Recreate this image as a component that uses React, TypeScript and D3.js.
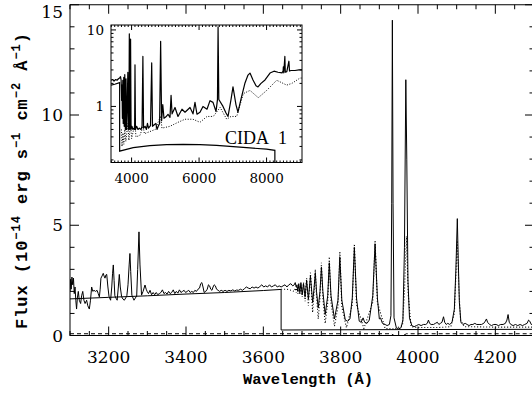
import React from "react";
import * as d3 from "d3";

type P = [number, number];

// ---------- main panel data (wavelength Å, flux 1e-14) ----------
const xTickValues = [3200, 3400, 3600, 3800, 4000, 4200];
const yTickValues = [0, 5, 10, 15];

const observed: P[] = [
  [3100, 2.0], [3101.5, 2.55], [3103, 2.1], [3105, 2.65], [3107, 2.3], [3109, 2.6], [3111, 1.9], [3113, 2.2],
  [3115, 1.6], [3117, 1.2], [3119, 1.7], [3121.5, 2.0], [3124, 1.6], [3127.5, 1.45], [3130, 1.8], [3133, 2.0],
  [3136, 1.6], [3139, 1.45], [3143, 1.6], [3146, 1.35], [3150, 1.2], [3153, 1.6], [3156, 2.2], [3159, 2.0],
  [3162, 2.05], [3166, 2.0], [3170, 2.05], [3173, 1.9], [3176, 1.75], [3178, 2.1], [3180, 2.6], [3183, 2.7],
  [3186, 2.82], [3188, 2.7], [3190.5, 2.6], [3193, 2.75], [3195, 2.77], [3198, 2.2], [3201, 1.76], [3205, 1.6],
  [3208, 2.2], [3210, 2.8], [3212, 3.2], [3214, 2.5], [3216, 1.8], [3219, 1.69], [3222, 1.6], [3225, 2.2],
  [3227.5, 2.77], [3230, 2.2], [3233.5, 1.76], [3237, 1.65], [3240.5, 1.6], [3244, 1.7], [3247, 1.8], [3250, 2.3],
  [3253, 3.2], [3255, 3.72], [3257, 2.9], [3260, 1.83], [3263, 1.7], [3265.5, 1.6], [3269, 1.7], [3272.5, 1.79],
  [3275, 3.0], [3278.4, 4.7], [3281, 3.2], [3285, 1.83], [3289, 2.0], [3294, 2.29], [3297, 2.1], [3300, 1.98],
  [3303, 1.9], [3307, 2.05], [3311, 1.85], [3315, 1.95], [3319, 1.85], [3323, 1.95], [3327, 1.85], [3331, 1.9],
  [3335, 1.95], [3339, 2.07], [3343, 1.9], [3347, 1.95], [3351, 1.88], [3355, 2.0], [3359, 1.9], [3363, 1.95],
  [3367, 2.07], [3371, 1.9], [3375, 2.0], [3379, 1.92], [3383, 2.07], [3387, 1.95], [3391, 2.0], [3395, 2.05],
  [3399, 1.95], [3403, 2.0], [3407, 2.05], [3411, 1.95], [3415, 2.0], [3419, 1.95], [3423, 2.05], [3427, 2.0],
  [3431, 2.1], [3435, 2.15], [3438, 2.35], [3441, 2.4], [3444, 2.2], [3447, 1.95], [3451, 2.0], [3455, 2.1],
  [3458, 2.3], [3461, 2.25], [3464, 2.1], [3467, 2.05], [3470, 2.2], [3473, 2.3], [3476, 2.25], [3479, 2.1],
  [3483, 2.05], [3487, 2.0], [3491, 2.05], [3496, 2.0], [3501, 2.05], [3506, 2.0], [3511, 2.05], [3516, 2.02],
  [3521, 2.07], [3526, 2.02], [3531, 2.06], [3536, 2.05], [3541, 2.1], [3546, 2.05], [3551, 2.12], [3556, 2.2],
  [3561, 2.15], [3566, 2.12], [3571, 2.2], [3576, 2.15], [3581, 2.2], [3586, 2.15], [3591, 2.22], [3596, 2.3],
  [3601, 2.2], [3606, 2.25], [3611, 2.2], [3616, 2.3], [3621, 2.2], [3626, 2.25], [3631, 2.3], [3636, 2.2],
  [3641, 2.25], [3646, 2.2], [3651, 2.25], [3656, 2.3], [3661, 2.2], [3666, 2.3], [3671, 2.35], [3676, 2.25],
  [3680, 2.3], [3682.5, 2.4], [3685, 2.2], [3687, 2.3], [3689, 2.0], [3691.6, 2.35], [3694.5, 1.95], [3697.2, 2.4],
  [3700.5, 1.85], [3703.9, 2.35], [3708, 1.75], [3712, 2.5], [3716.5, 1.65], [3721.9, 2.7], [3727.5, 1.5], [3731, 2.1],
  [3734.4, 2.85], [3737.5, 2.0], [3742, 1.25], [3746.5, 2.0], [3750.2, 3.1], [3754, 2.0], [3760, 0.95], [3766.5, 1.8],
  [3770.6, 3.3], [3775, 1.8], [3784, 0.75], [3793, 1.6], [3797.9, 3.55], [3803, 1.6], [3812, 0.7], [3818, 0.65],
  [3824, 0.75], [3830, 1.7], [3835.4, 4.0], [3841, 1.7], [3848, 0.65], [3853, 0.6], [3858, 0.8], [3862, 0.6],
  [3868, 0.55], [3874, 0.7], [3883, 1.8], [3889, 4.15], [3895, 1.7], [3900, 0.75], [3903, 0.8], [3908, 0.55],
  [3915, 0.5], [3920, 0.45], [3926, 0.5], [3930, 0.9], [3932, 6.0], [3933.7, 14.3], [3935.5, 6.0], [3938, 0.8],
  [3944, 0.35], [3950, 0.3], [3956, 0.35], [3961, 0.7], [3965, 4.0], [3968.5, 11.6], [3971, 8.0], [3974, 2.5],
  [3978, 0.8], [3984, 0.45], [3990, 0.4], [3996, 0.45], [4002, 0.5], [4008, 0.45], [4014, 0.5], [4020, 0.5],
  [4024, 0.55], [4027, 0.7], [4030, 0.55], [4034, 0.5], [4040, 0.5], [4045, 0.55], [4050, 0.6], [4054, 0.5],
  [4058, 0.55], [4062, 0.6], [4066, 0.85], [4069, 0.6], [4073, 0.5], [4077, 0.55], [4082, 0.5], [4088, 0.6],
  [4094, 1.2], [4098, 3.0], [4101.7, 5.3], [4104, 3.5], [4107, 1.5], [4111, 0.6], [4116, 0.5], [4122, 0.55],
  [4127, 0.5], [4132, 0.45], [4137, 0.5], [4142, 0.5], [4147, 0.55], [4152, 0.5], [4158, 0.5], [4164, 0.5],
  [4170, 0.55], [4174, 0.65], [4177, 0.75], [4180, 0.6], [4185, 0.5], [4190, 0.45], [4196, 0.5], [4202, 0.5],
  [4208, 0.45], [4214, 0.5], [4220, 0.5], [4226, 0.55], [4230, 0.7], [4233, 0.95], [4236, 0.6], [4240, 0.5],
  [4246, 0.45], [4252, 0.5], [4258, 0.45], [4264, 0.5], [4270, 0.45], [4276, 0.5], [4282, 0.55], [4286, 0.7],
  [4289, 0.65], [4293, 0.5], [4300, 0.5],
];

const continuumModel: P[] = [
  [3100, 1.66], [3200, 1.73], [3300, 1.8], [3400, 1.88], [3500, 1.95], [3600, 2.04], [3646, 2.09],
  [3646, 0.25], [3800, 0.26], [4000, 0.27], [4300, 0.28],
];

const lineModel: P[] = [
  [3646, 2.1], [3660, 2.1], [3672, 2.05], [3680, 2.0], [3683, 2.15], [3685, 1.95], [3687, 2.2], [3689.5, 1.9],
  [3691.6, 2.25], [3694.5, 1.85], [3697.2, 2.3], [3700.5, 1.75], [3703.9, 2.4], [3708, 1.55], [3712, 2.6],
  [3716.5, 1.35], [3721.9, 2.85], [3727.5, 1.05], [3731, 1.9], [3734.4, 3.0], [3737.5, 1.8], [3742, 0.75],
  [3746.5, 1.7], [3750.2, 3.3], [3754, 1.7], [3760, 0.55], [3766.5, 1.5], [3770.6, 3.57], [3775, 1.5],
  [3784, 0.42], [3793, 1.3], [3797.9, 3.8], [3803, 1.3], [3815, 0.35], [3830, 1.4], [3835.4, 4.15], [3841, 1.4],
  [3860, 0.32], [3883, 1.5], [3889, 4.3], [3895, 1.5], [3915, 0.32], [3940, 0.3], [3960, 0.45], [3965, 2.0],
  [3970, 4.5], [3975, 1.8], [3982, 0.4], [4000, 0.36], [4050, 0.36], [4085, 0.4], [4094, 1.0], [4097, 2.3],
  [4101.7, 4.3], [4106, 2.0], [4110, 0.7], [4120, 0.4], [4200, 0.38], [4300, 0.38],
];

const photosphere: P[] = [
  [3100, 0.08], [3930, 0.08], [3950, -0.12], [3970, 0.08], [4300, 0.08],
];

// ---------- inset data ----------
const insetXTickValues = [4000, 6000, 8000];
const insetYTickValues = [1, 10];

const insetObserved: P[] = [
  [3390, 2.2], [3440, 2.25], [3480, 2.15], [3530, 2.25], [3570, 2.2], [3610, 2.3], [3645, 2.35], [3672, 2.45],
  [3690, 2.2], [3705, 1.2], [3716, 1.9], [3728, 0.7], [3740, 2.2], [3752, 0.6], [3768, 2.4], [3782, 0.55],
  [3798, 2.6], [3815, 0.5], [3835, 2.3], [3850, 0.5], [3870, 1.0], [3889, 2.8], [3905, 0.5], [3920, 0.55],
  [3933, 8.9], [3945, 0.5], [3960, 0.55], [3970, 7.6], [3985, 0.5], [4010, 0.55], [4040, 0.5], [4070, 0.52],
  [4090, 0.5], [4101, 3.5], [4115, 0.5], [4150, 0.55], [4190, 0.5], [4230, 0.52], [4280, 0.5], [4310, 0.55],
  [4335, 4.5], [4355, 0.52], [4400, 0.55], [4440, 0.5], [4470, 0.6], [4500, 0.52], [4560, 0.56], [4596, 3.7],
  [4620, 0.55], [4680, 0.58], [4720, 0.6], [4753, 0.5], [4790, 0.55], [4830, 0.6], [4861, 7.1], [4890, 0.65],
  [4924, 1.06], [4960, 0.7], [5000, 0.72], [5040, 0.75], [5079, 0.79], [5138, 0.72], [5170, 1.4], [5200, 0.8],
  [5287, 0.97], [5375, 0.74], [5494, 0.92], [5583, 0.84], [5731, 0.97], [5820, 0.8], [5879, 1.13], [5938, 0.79],
  [6027, 0.84], [6116, 1.0], [6235, 0.92], [6324, 1.19], [6413, 1.13], [6502, 0.86], [6545, 1.23], [6563, 11],
  [6585, 1.23], [6709, 1.0], [6798, 0.82], [6858, 0.74], [6946, 1.23], [7005, 1.8], [7094, 1.05], [7153, 0.84],
  [7242, 1.25], [7361, 2.03], [7450, 2.57], [7509, 2.73], [7598, 2.22], [7687, 1.86], [7746, 1.8], [7835, 2.0],
  [7954, 2.22], [8102, 2.73], [8220, 2.89], [8339, 2.8], [8457, 2.75], [8490, 2.9], [8498, 3.3], [8510, 2.75],
  [8542, 4.5], [8555, 2.8], [8600, 2.85], [8662, 3.9], [8680, 2.9], [8724, 2.95], [8842, 2.95], [8961, 3.0],
  [9050, 3.0],
];

const insetModel: P[] = [
  [3700, 0.5], [3716, 0.3], [3745, 0.45], [3770, 0.32], [3800, 0.5], [3830, 0.35], [3890, 0.6], [3920, 0.36],
  [3970, 0.6], [4000, 0.38], [4101, 0.6], [4130, 0.4], [4250, 0.42], [4340, 0.55], [4380, 0.44], [4546, 0.47],
  [4700, 0.5], [4861, 0.75], [4900, 0.52], [5138, 0.55], [5375, 0.62], [5583, 0.68], [5820, 0.68], [6027, 0.62],
  [6235, 0.74], [6420, 0.74], [6624, 0.97], [6819, 0.68], [6946, 0.74], [7115, 0.74], [7310, 1.47], [7509, 1.62],
  [7755, 1.3], [8004, 1.62], [8300, 2.2], [8596, 1.9], [8750, 2.0], [8990, 2.35], [9050, 2.35],
];

const insetContinuum: P[] = [
  [3390, 1.9], [3500, 1.95], [3646, 2.05], [3646, 0.26], [4048, 0.29], [4543, 0.307], [5037, 0.316],
  [5529, 0.319], [6024, 0.316], [6519, 0.31], [7011, 0.298], [7505, 0.287], [7999, 0.276], [8246, 0.267],
  [8246, 0.1],
];

// ---------- layout ----------
const W = 532;
const H = 396;
const M = { left: 70, right: 534, top: 4.75, bottom: 335.5 };
const IN = { left: 111, right: 302, top: 25, bottom: 162.5 };

const serif = "'DejaVu Serif', serif";
const mono = "'Liberation Mono', monospace";

export default function App() {
  const x = d3.scaleLinear().domain([3100, 4300]).range([M.left, M.right]);
  const y = d3.scaleLinear().domain([0, 15]).range([M.bottom, M.top]);
  const line = d3.line<P>().x((d) => x(d[0])).y((d) => y(d[1]));

  const xi = d3.scaleLinear().domain([3390, 9050]).range([IN.left, IN.right]);
  const yi = d3.scaleLog().domain([0.185, 11.6]).range([IN.bottom, IN.top]);
  const lineIn = d3.line<P>().x((d) => xi(d[0])).y((d) => yi(d[1]));

  const xMinor = d3.range(3100, 4301, 50);
  const yMinor = d3.range(0, 15.01, 1);
  const xiMinor = d3.range(3400, 9051, 100);
  const yiMinor = [
    ...d3.range(2, 10).map((v) => v / 10),
    ...d3.range(2, 10),
  ];

  const tickStroke = { stroke: "#000", strokeWidth: 1 };

  return (
    <svg
      width={W}
      height={H}
      style={{ position: "absolute", left: 0, top: 0, background: "#fff" }}
    >
      <defs>
        <clipPath id="mainClip">
          <rect x={M.left} y={M.top} width={M.right - M.left} height={M.bottom - M.top} />
        </clipPath>
        <clipPath id="insetClip">
          <rect x={IN.left} y={IN.top} width={IN.right - IN.left} height={IN.bottom - IN.top} />
        </clipPath>
      </defs>
      <rect x={0} y={0} width={W} height={H} fill="#fff" />

      {/* main series */}
      <g clipPath="url(#mainClip)" fill="none" stroke="#000">
        <path d={line(photosphere) || ""} strokeWidth={1} strokeDasharray="4,3" />
        <path d={line(continuumModel) || ""} strokeWidth={1} />
        <path d={line(lineModel) || ""} strokeWidth={1.1} strokeDasharray="1,2" />
        <path d={line(observed) || ""} strokeWidth={1} strokeLinejoin="round" />
      </g>

      {/* main frame */}
      <rect
        x={M.left}
        y={M.top}
        width={M.right - M.left}
        height={M.bottom - M.top}
        fill="none"
        stroke="#000"
        strokeWidth={1}
      />
      {/* x ticks bottom & top */}
      {xMinor.map((v) => {
        const major = v % 200 === 0;
        const len = major ? 9 : 4.5;
        return (
          <g key={"xt" + v}>
            <line x1={x(v)} x2={x(v)} y1={M.bottom} y2={M.bottom - len} {...tickStroke} />
            <line x1={x(v)} x2={x(v)} y1={M.top} y2={M.top + len} {...tickStroke} />
          </g>
        );
      })}
      {yMinor.map((v) => {
        const major = v % 5 === 0;
        const len = major ? 9 : 4.5;
        return (
          <g key={"yt" + v}>
            <line x1={M.left} x2={M.left + len} y1={y(v)} y2={y(v)} {...tickStroke} />
            <line x1={M.right} x2={M.right - len} y1={y(v)} y2={y(v)} {...tickStroke} />
          </g>
        );
      })}
      {xTickValues.map((v) => (
        <text key={"xl" + v} x={x(v)} y={363} textAnchor="middle" fontFamily={serif} fontSize={17}>
          {v}
        </text>
      ))}
      {yTickValues.map((v) => (
        <text
          key={"yl" + v}
          x={63}
          y={Math.max(y(v), 12) + 6}
          textAnchor="end"
          fontFamily={serif}
          fontSize={17}
        >
          {v}
        </text>
      ))}

      {/* axis titles */}
      <text x={308} y={384} textAnchor="middle" fontFamily={mono} fontWeight="bold" fontSize={15.5}>
        Wavelength (Å)
      </text>
      <text
        transform="translate(27,181) rotate(-90)"
        textAnchor="middle"
        fontFamily={mono}
        fontWeight="bold"
        fontSize={17}
        textLength={296}
        lengthAdjust="spacing"
      >
        <tspan>Flux (10</tspan>
        <tspan dy={-7} fontSize={12}>−14</tspan>
        <tspan dy={7}> erg s</tspan>
        <tspan dy={-7} fontSize={12}>−1</tspan>
        <tspan dy={7}> cm</tspan>
        <tspan dy={-7} fontSize={12}>−2</tspan>
        <tspan dy={7}> Å</tspan>
        <tspan dy={-7} fontSize={12}>−1</tspan>
        <tspan dy={7}>)</tspan>
      </text>

      {/* inset */}
      <rect
        x={IN.left}
        y={IN.top}
        width={IN.right - IN.left}
        height={IN.bottom - IN.top}
        fill="#fff"
      />
      <g clipPath="url(#insetClip)" fill="none" stroke="#000">
        <path d={lineIn(insetContinuum) || ""} strokeWidth={1.2} />
        <path d={lineIn(insetModel) || ""} strokeWidth={1} strokeDasharray="1,1.6" />
        <path d={lineIn(insetObserved) || ""} strokeWidth={1.2} strokeLinejoin="round" />
      </g>
      <rect
        x={IN.left}
        y={IN.top}
        width={IN.right - IN.left}
        height={IN.bottom - IN.top}
        fill="none"
        stroke="#000"
        strokeWidth={1}
      />
      {xiMinor.map((v) => {
        const major = v % 2000 === 0;
        const len = major ? 5 : 2;
        return (
          <g key={"xit" + v}>
            <line x1={xi(v)} x2={xi(v)} y1={IN.bottom} y2={IN.bottom - len} {...tickStroke} />
            <line x1={xi(v)} x2={xi(v)} y1={IN.top} y2={IN.top + len} {...tickStroke} />
          </g>
        );
      })}
      {[...yiMinor, ...insetYTickValues].map((v) => {
        const major = insetYTickValues.includes(v);
        const len = major ? 5 : 2.5;
        return (
          <g key={"yit" + v}>
            <line x1={IN.left} x2={IN.left + len} y1={yi(v)} y2={yi(v)} {...tickStroke} />
            <line x1={IN.right} x2={IN.right - len} y1={yi(v)} y2={yi(v)} {...tickStroke} />
          </g>
        );
      })}
      {insetXTickValues.map((v) => (
        <text key={"xil" + v} x={xi(v)} y={183} textAnchor="middle" fontFamily={serif} fontSize={13.5}>
          {v}
        </text>
      ))}
      {insetYTickValues.map((v) => (
        <text key={"yil" + v} x={104} y={yi(v) + 5} textAnchor="end" fontFamily={serif} fontSize={13.5}>
          {v}
        </text>
      ))}
      <text x={225} y={143.5} fontFamily="'Liberation Serif', serif" fontSize={18}>
        CIDA
      </text>
      <text x={278} y={143.5} fontFamily="'Liberation Serif', serif" fontSize={18}>
        1
      </text>
    </svg>
  );
}
